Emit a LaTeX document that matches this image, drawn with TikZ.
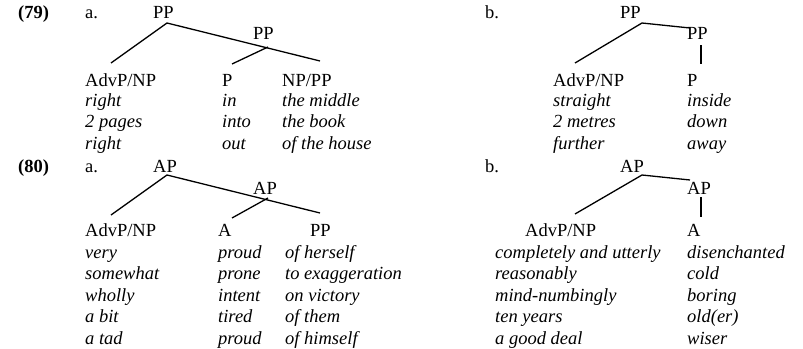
\documentclass[tikz,border=0pt]{standalone}
\usepackage{fontspec}
\setmainfont{Liberation Serif}
\usetikzlibrary{positioning}

\begin{document}
\begin{tikzpicture}[x=1pt,y=-1pt]
		% Define styles for the labels and branches
		\tikzstyle{cat} = [anchor=base west, inner sep=0pt, font=\fontsize{18.5}{21.5}\selectfont]
		% example lists: the base anchor sits on the last line
		\tikzstyle{ex} = [cat, align=left, font=\fontsize{18.5}{21.5}\selectfont\itshape]
		\tikzstyle{num} = [cat, font=\fontsize{18.5}{21.5}\selectfont\bfseries]
		\tikzstyle{branch} = [line width=1.3pt]
		
		\useasboundingbox (0,0) rectangle (803,348);
		
		% (79) a.
		\node (n79) [num] at (18,19) {(79)};
		\node (a79) [cat] at (85,19) {a.};
		\node (pp79a) [cat] at (153,19) {PP};
		\node (ppin79a) [cat] at (253,39) {PP};
		\node (advp79a) [cat] at (85,86) {AdvP/NP};
		\node (p79a) [cat] at (222,86) {P};
		\node (np79a) [cat] at (282,86) {NP/PP};
		\node (advpx79a) [ex] at (85,149) {right\\2 pages\\right};
		\node (px79a) [ex] at (222,149) {in\\into\\out};
		\node (npx79a) [ex] at (282,149) {the middle\\the book\\of the house};
		
		% (79) b.
		\node (b79) [cat] at (485,19) {b.};
		\node (pp79b) [cat] at (620,19) {PP};
		\node (ppin79b) [cat] at (687,39) {PP};
		\node (advp79b) [cat] at (553,86) {AdvP/NP};
		\node (p79b) [cat] at (687,86) {P};
		\node (advpx79b) [ex] at (553,149) {straight\\2 metres\\further};
		\node (px79b) [ex] at (687,149) {inside\\down\\away};
		
		% (80) a.
		\node (n80) [num] at (18,172) {(80)};
		\node (a80) [cat] at (85,172) {a.};
		\node (ap80a) [cat] at (153,172) {AP};
		\node (apin80a) [cat] at (253,194) {AP};
		\node (advp80a) [cat] at (85,236) {AdvP/NP};
		\node (adj80a) [cat] at (218,236) {A};
		\node (pp80a) [cat] at (310,236) {PP};
		\node (advpx80a) [ex] at (85,344) {very\\somewhat\\wholly\\a bit\\a tad};
		\node (adjx80a) [ex] at (218,344) {proud\\prone\\intent\\tired\\proud};
		\node (ppx80a) [ex] at (285,344) {of herself\\to exaggeration\\on victory\\of them\\of himself};
		
		% (80) b.
		\node (b80) [cat] at (485,172) {b.};
		\node (ap80b) [cat] at (620,172) {AP};
		\node (apin80b) [cat] at (687,194) {AP};
		\node (advp80b) [cat] at (525,236) {AdvP/NP};
		\node (adj80b) [cat] at (687,236) {A};
		\node (advpx80b) [ex] at (495,344) {completely and utterly\\reasonably\\mind-numbingly\\ten years\\a good deal};
		\node (adjx80b) [ex] at (687,344) {disenchanted\\cold\\boring\\old(er)\\wiser};
		
		% Branch points
		\coordinate (j79a) at (167,23);
		\coordinate (jin79a) at (268,47);
		\coordinate (l79a) at (111,63);
		\coordinate (m79a) at (232,64);
		\coordinate (r79a) at (320,61);
		\coordinate (j79b) at (642,23);
		\coordinate (l79b) at (575,63);
		\coordinate (r79b) at (690,28);
		\coordinate (t79b) at (701,45);
		\coordinate (d79b) at (701,64);
		\coordinate (j80a) at (167,175);
		\coordinate (jin80a) at (268,198);
		\coordinate (l80a) at (111,215);
		\coordinate (m80a) at (232,218);
		\coordinate (r80a) at (320,213);
		\coordinate (j80b) at (642,175);
		\coordinate (l80b) at (575,214);
		\coordinate (r80b) at (690,180);
		\coordinate (t80b) at (701,197);
		\coordinate (d80b) at (701,217);
		
		% Draw the branches
		\draw [branch] (l79a) -- (j79a) -- (r79a);
		\draw [branch] (jin79a) -- (m79a);
		\draw [branch] (l79b) -- (j79b) -- (r79b);
		\draw [branch] (t79b) -- (d79b);
		\draw [branch] (l80a) -- (j80a) -- (r80a);
		\draw [branch] (jin80a) -- (m80a);
		\draw [branch] (l80b) -- (j80b) -- (r80b);
		\draw [branch] (t80b) -- (d80b);
	\end{tikzpicture}
\end{document}
